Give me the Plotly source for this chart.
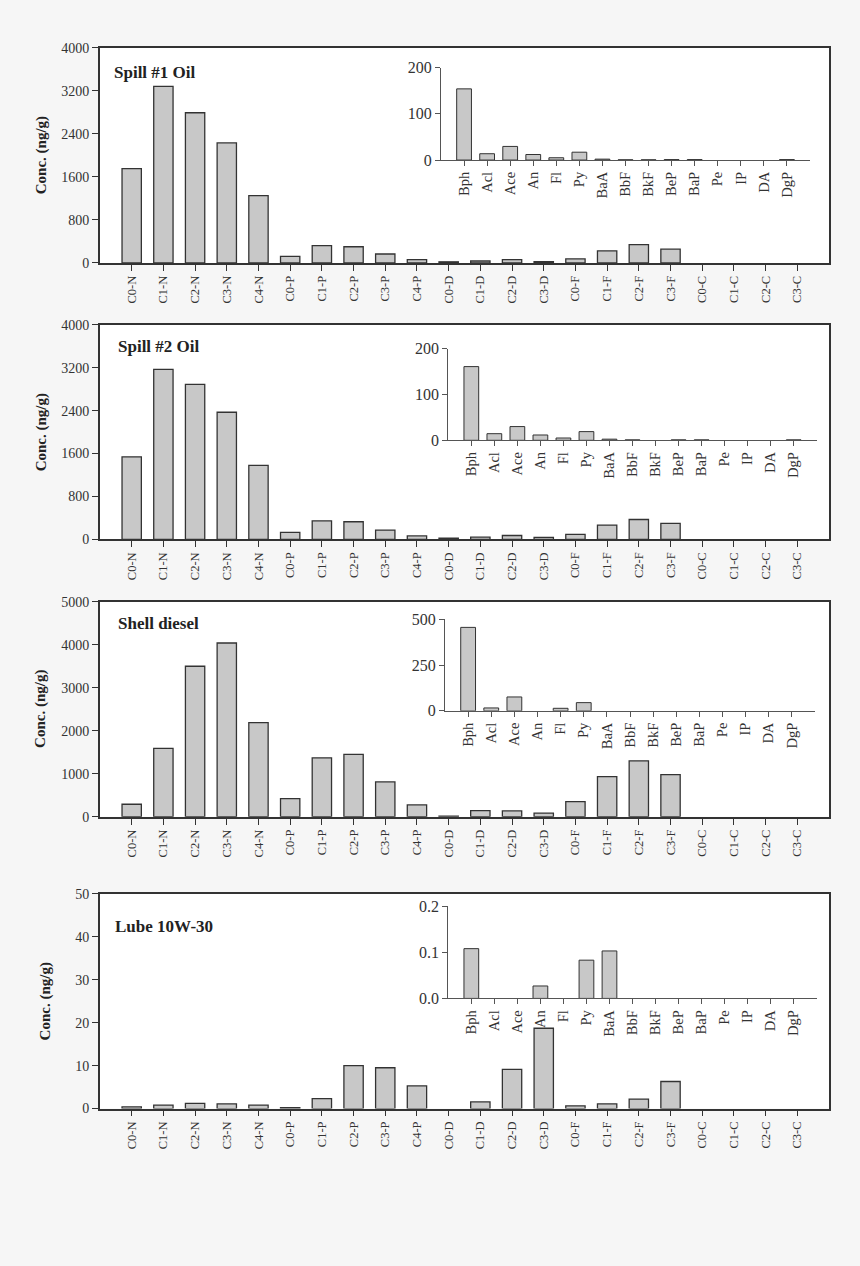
import plotly.graph_objects as go

W, H = 860, 1266

main_cats = ["C0-N", "C1-N", "C2-N", "C3-N", "C4-N",
             "C0-P", "C1-P", "C2-P", "C3-P", "C4-P",
             "C0-D", "C1-D", "C2-D", "C3-D",
             "C0-F", "C1-F", "C2-F", "C3-F",
             "C0-C", "C1-C", "C2-C", "C3-C"]
inset_cats = ["Bph", "Acl", "Ace", "An", "Fl", "Py", "BaA", "BbF", "BkF",
              "BeP", "BaP", "Pe", "IP", "DA", "DgP"]

panel_titles = ["Spill #1 Oil", "Spill #2 Oil", "Shell diesel", "Lube 10W-30"]

# None = not detected (no bar drawn)
spill1_main = [1750, 3280, 2790, 2230, 1250, 120, 320, 300, 165, 60,
               20, 35, 60, 25, 75, 225, 340, 255, None, None, None, None]
spill2_main = [1540, 3170, 2890, 2370, 1380, 130, 347, 330, 174, 65,
               25, 43, 74, 37, 93, 267, 372, 298, None, None, None, None]
diesel_main = [290, 1590, 3500, 4040, 2190, 420, 1370, 1450, 810, 275,
               15, 140, 135, 85, 350, 930, 1300, 980, None, None, None, None]
lube_main = [0.4, 0.8, 1.2, 1.1, 0.8, 0.2, 2.3, 10.0, 9.5, 5.3,
             None, 1.55, 9.1, 18.7, 0.62, 1.1, 2.2, 6.3, None, None, None, None]

spill1_inset = [154, 13.7, 29.5, 12, 5, 17, 2, 0.5, 0.5, 1, 1, None, None, None, 1]
spill2_inset = [161, 14.5, 30, 11.6, 5, 19, 2.5, 1, None, 1, 1, None, None, None, 1]
diesel_inset = [456, 16, 76, None, 14, 45, None, None, None, None, None, None, None, None, None]
lube_inset = [0.108, None, None, 0.027, None, 0.083, 0.103, None, None, None, None, None, None, None, None]

main_series = [spill1_main, spill2_main, diesel_main, lube_main]
inset_series = [spill1_inset, spill2_inset, diesel_inset, lube_inset]

main_yranges = [[0, 4000], [0, 4000], [0, 5000], [0, 50]]
main_dticks = [800, 800, 1000, 10]
inset_yranges = [[0, 200], [0, 200], [0, 500], [0, 0.2]]
inset_dticks = [100, 100, 250, 0.1]
inset_fmt = ["d", "d", "d", ".1f"]

# pixel geometry (left, right, top, bottom)
main_boxes = [(100, 829, 46.7, 262.3), (100, 829, 324.3, 539.3),
              (100, 829, 601.7, 817.0), (100, 829, 894.3, 1109.3)]
inset_boxes = [(441, 810, 66.7, 159.3), (448.3, 816.7, 348.3, 440.0),
               (445, 815, 619.3, 711.0), (448.3, 816.7, 906.7, 999.0)]
label_pos = [(112, 71.7), (116, 346), (116, 623), (113, 926.7)]
ytitle_pos = [(41, 154.5), (41, 432), (41, 709), (45, 1002)]

# effective vertical plot area observed in the renderer
Y0, YH = 7.0, 1251.0


def xd(a, b):
    return [a / W, b / W]


def ypx(p):
    return 1 - (p - Y0) / YH


def yd(t, b):
    return [ypx(b), ypx(t)]


FONT = "Liberation Serif"
DARK = "#333333"
BAR_FILL = "#c8c8c8"

fig = go.Figure()
layout = {}
shapes = []

# insets use axes 1..4 (drawn first), main panels use axes 5..8
for i in range(4):
    n = i + 1
    xa = "x" if n == 1 else f"x{n}"
    ya = "y" if n == 1 else f"y{n}"
    fig.add_trace(go.Bar(x=list(range(len(inset_cats))), y=inset_series[i],
                         xaxis=xa, yaxis=ya, width=0.64,
                         marker=dict(color=BAR_FILL, line=dict(color=DARK, width=1)),
                         showlegend=False, hoverinfo="skip"))
    l, r, t, b = inset_boxes[i]
    xk = "xaxis" if n == 1 else f"xaxis{n}"
    yk = "yaxis" if n == 1 else f"yaxis{n}"
    layout[xk] = dict(domain=xd(l, r), anchor=ya, range=[-1, 15],
                      tickmode="array", tickvals=list(range(len(inset_cats))),
                      ticktext=inset_cats, tickangle=-90,
                      showline=True, linecolor="#555555", linewidth=1,
                      ticks="outside", ticklen=5, tickcolor="#555555",
                      showgrid=False, zeroline=False,
                      tickfont=dict(family=FONT, size=14.5, color=DARK))
    layout[yk] = dict(domain=yd(t, b), anchor=xa, range=inset_yranges[i],
                      dtick=inset_dticks[i], tick0=0, tickformat=inset_fmt[i],
                      showline=True, linecolor="#555555", linewidth=1,
                      ticks="outside", ticklen=5, tickcolor="#555555",
                      showgrid=False, zeroline=False,
                      tickfont=dict(family=FONT, size=16, color=DARK))

for i in range(4):
    n = i + 5
    xa, ya = f"x{n}", f"y{n}"
    fig.add_trace(go.Bar(x=list(range(len(main_cats))), y=main_series[i],
                         xaxis=xa, yaxis=ya, width=0.61,
                         marker=dict(color=BAR_FILL, line=dict(color=DARK, width=1.3)),
                         showlegend=False, hoverinfo="skip"))
    l, r, t, b = main_boxes[i]
    shapes.append(dict(type="rect", xref="paper", yref="paper",
                       x0=l / W, x1=r / W, y0=ypx(b), y1=ypx(t),
                       fillcolor="#ffffff", line=dict(width=0), layer="below"))
    layout[f"xaxis{n}"] = dict(domain=xd(l, r), anchor=ya, range=[-1, 22],
                               tickmode="array", tickvals=list(range(len(main_cats))),
                               ticktext=main_cats, tickangle=-90,
                               showline=True, mirror=True, linecolor=DARK, linewidth=1.8,
                               ticks="outside", ticklen=6, tickcolor=DARK, tickwidth=1.3,
                               showgrid=False, zeroline=False,
                               tickfont=dict(family=FONT, size=12.5, color=DARK))
    layout[f"yaxis{n}"] = dict(domain=yd(t, b), anchor=xa, range=main_yranges[i],
                               dtick=main_dticks[i], tick0=0,
                               showline=True, mirror=True, linecolor=DARK, linewidth=1.8,
                               ticks="outside", ticklen=6, tickcolor=DARK, tickwidth=1.3,
                               showgrid=False, zeroline=False,
                               tickfont=dict(family=FONT, size=14, color=DARK))

annotations = []
for i in range(4):
    lx, ly = label_pos[i]
    annotations.append(dict(text="<b>" + panel_titles[i] + "</b>", x=lx / W, y=ypx(ly),
                            xref="paper", yref="paper", xanchor="left", yanchor="middle",
                            showarrow=False, font=dict(family=FONT, size=17, color="#222222")))
    tx, ty = ytitle_pos[i]
    annotations.append(dict(text="<b>Conc. (ng/g)</b>", x=tx / W, y=ypx(ty),
                            xref="paper", yref="paper", xanchor="center", yanchor="middle",
                            textangle=-90, showarrow=False,
                            font=dict(family=FONT, size=15, color="#222222")))

fig.update_layout(width=W, height=H, margin=dict(l=0, r=0, t=0, b=0, pad=0),
                  autosize=False,
                  paper_bgcolor="#f6f6f6", plot_bgcolor="rgba(0,0,0,0)",
                  bargap=0.35, annotations=annotations, shapes=shapes, **layout)

fig.write_html("out.html",
               config={"displayModeBar": False},
               post_script="document.body.style.margin='0';document.body.style.overflow='hidden';")
